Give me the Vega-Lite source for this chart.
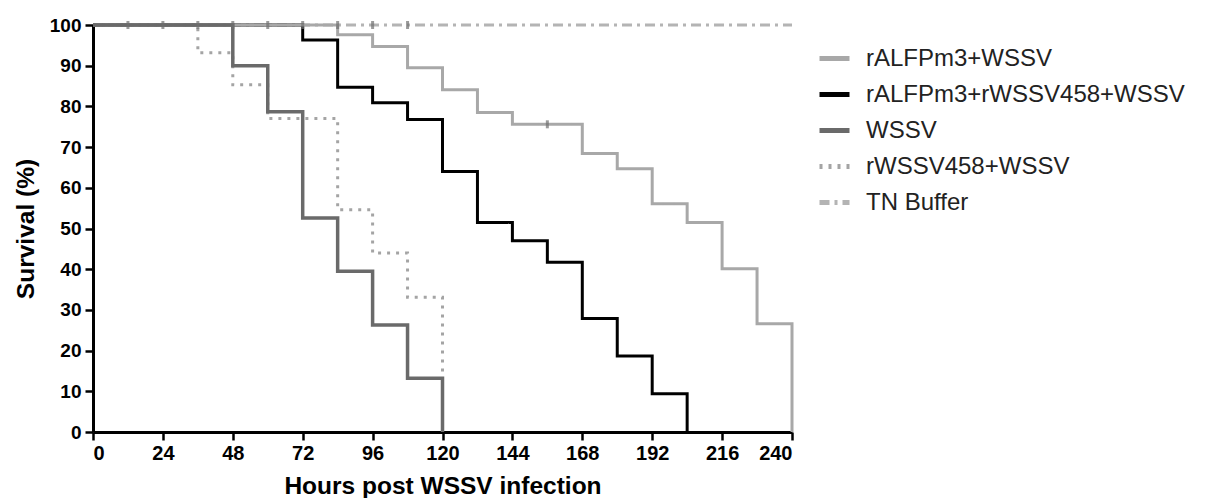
{
  "$schema": "https://vega.github.io/schema/vega-lite/v6.json",
  "width": 699,
  "height": 407,
  "autosize": "none",
  "padding": {"left": 93, "top": 25, "right": 422, "bottom": 66},
  "background": "white",
  "config": {
    "view": {"stroke": null},
    "font": "Liberation Sans",
    "axis": {
      "grid": false,
      "domainColor": "#000000",
      "domainWidth": 3,
      "tickColor": "#000000",
      "tickWidth": 2.5,
      "tickSize": 8,
      "labelColor": "#000000",
      "labelFont": "Liberation Sans",
      "labelFontWeight": "bold",
      "titleFont": "Liberation Sans",
      "titleFontWeight": "bold",
      "titleColor": "#000000",
      "titleFontSize": 24.5
    },
    "legend": {
      "orient": "none",
      "legendX": 724,
      "legendY": 16,
      "symbolType": "stroke",
      "symbolSize": 900,
      "symbolStrokeWidth": 5,
      "labelFont": "Liberation Sans",
      "labelFontSize": 24,
      "labelColor": "#222222",
      "labelOffset": 14,
      "rowPadding": 6,
      "labelLimit": 400
    }
  },
  "datasets": {
    "surv": [
      {"group": "TN Buffer", "hours": 0, "survival": 100},
      {"group": "TN Buffer", "hours": 240, "survival": 100},
      {"group": "rWSSV458+WSSV", "hours": 0, "survival": 100},
      {"group": "rWSSV458+WSSV", "hours": 36, "survival": 93.2},
      {"group": "rWSSV458+WSSV", "hours": 48, "survival": 85.3},
      {"group": "rWSSV458+WSSV", "hours": 60, "survival": 77.0},
      {"group": "rWSSV458+WSSV", "hours": 84, "survival": 54.6},
      {"group": "rWSSV458+WSSV", "hours": 96, "survival": 44.0},
      {"group": "rWSSV458+WSSV", "hours": 108, "survival": 33.1},
      {"group": "rWSSV458+WSSV", "hours": 120, "survival": 0},
      {"group": "rALFPm3+rWSSV458+WSSV", "hours": 0, "survival": 100},
      {"group": "rALFPm3+rWSSV458+WSSV", "hours": 72, "survival": 96.3},
      {"group": "rALFPm3+rWSSV458+WSSV", "hours": 84, "survival": 84.7},
      {"group": "rALFPm3+rWSSV458+WSSV", "hours": 96, "survival": 80.9},
      {"group": "rALFPm3+rWSSV458+WSSV", "hours": 108, "survival": 76.8},
      {"group": "rALFPm3+rWSSV458+WSSV", "hours": 120, "survival": 64.0},
      {"group": "rALFPm3+rWSSV458+WSSV", "hours": 132, "survival": 51.5},
      {"group": "rALFPm3+rWSSV458+WSSV", "hours": 144, "survival": 47.0},
      {"group": "rALFPm3+rWSSV458+WSSV", "hours": 156, "survival": 41.7},
      {"group": "rALFPm3+rWSSV458+WSSV", "hours": 168, "survival": 27.9},
      {"group": "rALFPm3+rWSSV458+WSSV", "hours": 180, "survival": 18.7},
      {"group": "rALFPm3+rWSSV458+WSSV", "hours": 192, "survival": 9.4},
      {"group": "rALFPm3+rWSSV458+WSSV", "hours": 204, "survival": 0},
      {"group": "rALFPm3+WSSV", "hours": 0, "survival": 100},
      {"group": "rALFPm3+WSSV", "hours": 84, "survival": 97.6},
      {"group": "rALFPm3+WSSV", "hours": 96, "survival": 94.7},
      {"group": "rALFPm3+WSSV", "hours": 108, "survival": 89.5},
      {"group": "rALFPm3+WSSV", "hours": 120, "survival": 84.1},
      {"group": "rALFPm3+WSSV", "hours": 132, "survival": 78.5},
      {"group": "rALFPm3+WSSV", "hours": 144, "survival": 75.6},
      {"group": "rALFPm3+WSSV", "hours": 168, "survival": 68.4},
      {"group": "rALFPm3+WSSV", "hours": 180, "survival": 64.7},
      {"group": "rALFPm3+WSSV", "hours": 192, "survival": 56.1},
      {"group": "rALFPm3+WSSV", "hours": 204, "survival": 51.5},
      {"group": "rALFPm3+WSSV", "hours": 216, "survival": 40.1},
      {"group": "rALFPm3+WSSV", "hours": 228, "survival": 26.6},
      {"group": "rALFPm3+WSSV", "hours": 240, "survival": 0},
      {"group": "WSSV", "hours": 0, "survival": 100},
      {"group": "WSSV", "hours": 48, "survival": 90.0},
      {"group": "WSSV", "hours": 60, "survival": 78.7},
      {"group": "WSSV", "hours": 72, "survival": 52.6},
      {"group": "WSSV", "hours": 84, "survival": 39.5},
      {"group": "WSSV", "hours": 96, "survival": 26.3},
      {"group": "WSSV", "hours": 108, "survival": 13.2},
      {"group": "WSSV", "hours": 120, "survival": 0}
    ],
    "censor": [
      {"hours": 12, "survival": 100},
      {"hours": 24, "survival": 100},
      {"hours": 36, "survival": 100},
      {"hours": 48, "survival": 100},
      {"hours": 60, "survival": 100},
      {"hours": 72, "survival": 100},
      {"hours": 84, "survival": 100},
      {"hours": 96, "survival": 100},
      {"hours": 108, "survival": 100},
      {"hours": 156, "survival": 75.6}
    ]
  },
  "layer": [
    {
      "data": {"name": "surv"},
      "encoding": {
        "x": {
          "field": "hours", "type": "quantitative",
          "scale": {"domain": [0, 240], "nice": false},
          "axis": {"values": [0, 24, 48, 72, 96, 120, 144, 168, 192, 216, 240], "labelFontSize": 20, "labelPadding": 3, "title": "Hours post WSSV infection", "titlePadding": 11}
        },
        "y": {
          "field": "survival", "type": "quantitative",
          "scale": {"domain": [0, 100], "nice": false},
          "axis": {"values": [0, 10, 20, 30, 40, 50, 60, 70, 80, 90, 100], "labelFontSize": 19, "labelPadding": 4, "title": "Survival (%)", "titlePadding": 11}
        },
        "color": {
          "field": "group", "type": "nominal",
          "scale": {
            "domain": ["rALFPm3+WSSV", "rALFPm3+rWSSV458+WSSV", "WSSV", "rWSSV458+WSSV", "TN Buffer"],
            "range": ["#a8a8a8", "#000000", "#6a6a6a", "#a4a4a4", "#b4b4b4"]
          },
          "legend": {"title": null}
        },
        "strokeDash": {
          "field": "group", "type": "nominal",
          "scale": {
            "domain": ["rALFPm3+WSSV", "rALFPm3+rWSSV458+WSSV", "WSSV", "rWSSV458+WSSV", "TN Buffer"],
            "range": [[1, 0], [1, 0], [1, 0], [3, 6], [10, 5, 3, 5]]
          },
          "legend": {"title": null}
        }
      },
      "layer": [
        {"transform": [{"filter": "datum.group === 'TN Buffer'"}], "mark": {"type": "line", "interpolate": "step-after", "strokeWidth": 3}},
        {"transform": [{"filter": "datum.group === 'rWSSV458+WSSV'"}], "mark": {"type": "line", "interpolate": "step-after", "strokeWidth": 3}},
        {"transform": [{"filter": "datum.group === 'rALFPm3+rWSSV458+WSSV'"}], "mark": {"type": "line", "interpolate": "step-after", "strokeWidth": 3}},
        {"transform": [{"filter": "datum.group === 'rALFPm3+WSSV'"}], "mark": {"type": "line", "interpolate": "step-after", "strokeWidth": 3}},
        {"transform": [{"filter": "datum.group === 'WSSV'"}], "mark": {"type": "line", "interpolate": "step-after", "strokeWidth": 3.5}}
      ]
    },
    {
      "data": {"name": "censor"},
      "mark": {"type": "tick", "orient": "vertical", "size": 8, "thickness": 3, "color": "#6f6f6f"},
      "encoding": {
        "x": {"field": "hours", "type": "quantitative"},
        "y": {"field": "survival", "type": "quantitative"}
      }
    }
  ]
}
